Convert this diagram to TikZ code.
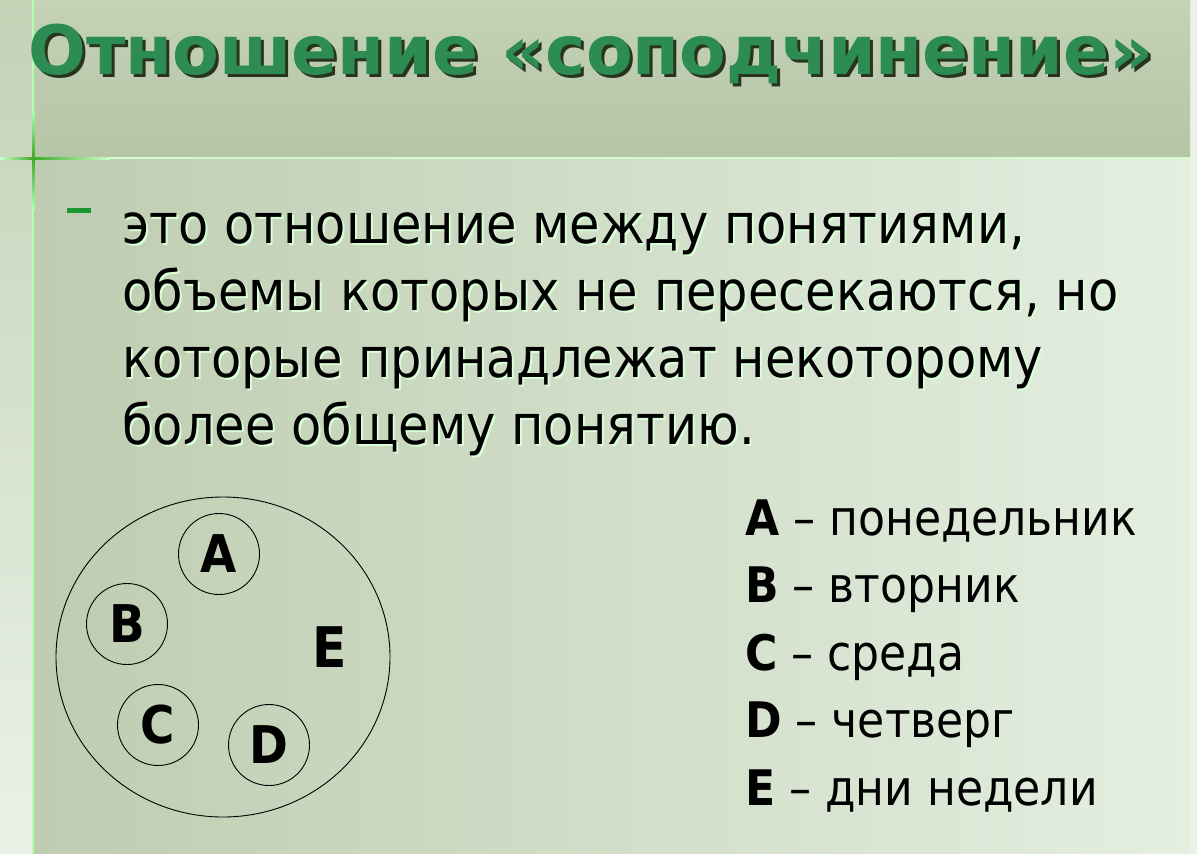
\documentclass[tikz,border=0pt]{standalone}
\usepackage{fontspec}
\setmainfont{DejaVu Sans}[FakeStretch=0.9]
\newfontfamily\titlefont{DejaVu Sans}
\usetikzlibrary{positioning}
\usetikzlibrary{shapes.geometric}
\definecolor{titlegreen}{RGB}{44,140,82}
\definecolor{titleshadow}{RGB}{40,52,30}
\definecolor{bulletgreen}{RGB}{26,150,50}
\definecolor{crossgreen}{RGB}{60,170,40}
\definecolor{headtop}{RGB}{196,210,182}
\definecolor{headbottom}{RGB}{181,197,166}
\definecolor{bodyleft}{RGB}{190,205,177}
\definecolor{bodyright}{RGB}{228,239,224}
\definecolor{stripcolor}{RGB}{234,242,231}
\tikzset{
  subset/.style={draw,circle,minimum size=81pt,inner sep=0pt,line width=0.9pt,
    font=\bfseries\fontsize{52}{52}\selectfont},
  legend/.style={anchor=base west,inner sep=0pt,font=\fontsize{49}{49}\selectfont}
}

\begin{document}
\begin{tikzpicture}[x=1pt,y=-1pt]
      \useasboundingbox (0,0) rectangle (1197,854);
      % background of the slide
      \fill[stripcolor] (0,0) rectangle (1197,854);
      \shade[top color=headtop,bottom color=stripcolor] (0,0) rectangle (33,854);
      \shade[left color=bodyleft,right color=bodyright] (33,158) rectangle (1190,854);
      \shade[top color=headtop,bottom color=headbottom] (33,0) rectangle (1190,158);
      \draw[white!70!green,line width=1.2pt] (33,0) -- (33,854);
      \draw[white!80!green,line width=1.5pt] (33,158) -- (1190,158);
      \shade[left color=crossgreen,right color=white!80!green] (33,157) rectangle (110,159.5);
      \shade[right color=crossgreen,left color=white!80!green] (0,157) rectangle (33,159.5);
      \shade[bottom color=crossgreen,top color=white!70!green] (32,110) rectangle (34.5,158);
      \shade[top color=crossgreen,bottom color=white!70!green] (32,158) rectangle (34.5,210);

      % title
      \node[anchor=base west,inner sep=0pt,text=titleshadow,font=\titlefont\bfseries\fontsize{68}{68}\selectfont]
        (titleshadow) at (31,77) {Отношение «соподчинение»};
      \node[anchor=base west,inner sep=0pt,text=titlegreen,font=\titlefont\bfseries\fontsize{68}{68}\selectfont]
        (title) at (28,74) {Отношение «соподчинение»};

      % definition (base anchor sits on the last line)
      \fill[bulletgreen] (67,208) rectangle (91,213);
      \node[anchor=base west,inner sep=0pt,align=left,text=white!85!green,font=\fontsize{55}{67}\selectfont]
        (defshadow) at (124,446) {это отношение между понятиями,\\объемы которых не пересекаются, но\\которые принадлежат некоторому\\более общему понятию.};
      \node[anchor=base west,inner sep=0pt,align=left,font=\fontsize{55}{67}\selectfont]
        (def) at (122,444) {это отношение между понятиями,\\объемы которых не пересекаются, но\\которые принадлежат некоторому\\более общему понятию.};

      % circles
      \node[draw,ellipse,minimum width=334pt,minimum height=320pt,line width=0.9pt] (week) at (223,657) {};
      \node[font=\bfseries\fontsize{56}{56}\selectfont] (E) at (330,647) {E};
      \node[subset] (A) at (219,554) {A};
      \node[subset] (B) at (127,624) {B};
      \node[subset] (C) at (158,725) {C};
      \node[subset] (D) at (269,745) {D};

      % legend
      \node[legend] (legA) at (745,535) {\textbf{A} – понедельник};
      \node[legend] (legB) at (745,602) {\textbf{B} – вторник};
      \node[legend] (legC) at (745,670) {\textbf{C} – среда};
      \node[legend] (legD) at (745,737) {\textbf{D} – четверг};
      \node[legend] (legE) at (745,805) {\textbf{E} – дни недели};
    \end{tikzpicture}
\end{document}
